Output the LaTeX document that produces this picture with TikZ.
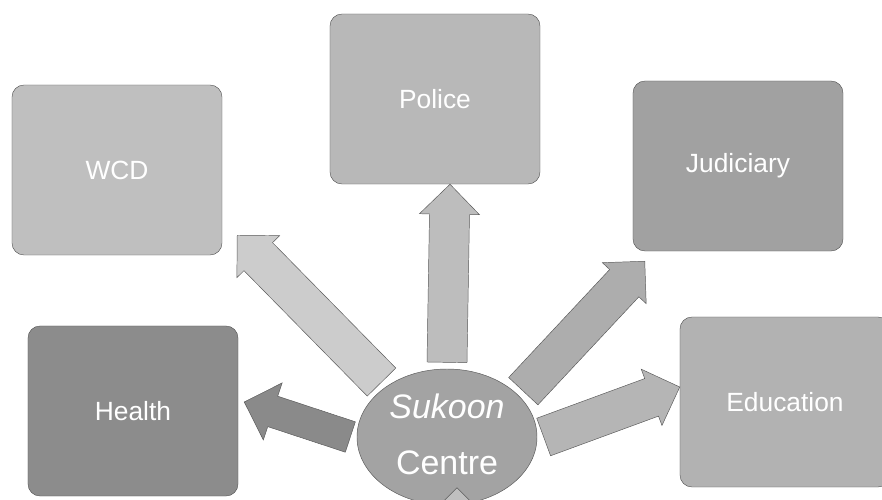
\documentclass[tikz,border=0pt]{standalone}
\usepackage{fontspec}
\setmainfont{Liberation Sans}
\usetikzlibrary{shapes.geometric,calc}

% block arrow: [shaft half width]{tail}{tip}{options}
\newcommand{\blockarrow}[4][0.6cm]{%
    \coordinate (ta) at (#2);
    \coordinate (tb) at (#3);
    \coordinate (tc) at ($(tb)!0.9cm!(ta)$);
    \draw[bigarrow,#4] ($(ta)!#1!90:(tb)$) -- ($(tc)!#1!-90:(ta)$)
        -- ($(tc)!0.9cm!-90:(ta)$) -- (tb) -- ($(tc)!0.9cm!90:(ta)$)
        -- ($(tc)!#1!90:(ta)$) -- ($(ta)!#1!-90:(tb)$) -- cycle;}

\begin{document}
\begin{tikzpicture}[x=0.03cm,y=-0.03cm,
    box/.style={draw=black!65,rounded corners=0.36cm,minimum width=6.3cm,
        minimum height=5.1cm,text=white,font=\fontsize{22.5}{27}\selectfont},
    hub/.style={ellipse,draw=black!65,fill=black!36,minimum width=5.4cm,
        minimum height=4.08cm,outer sep=0.2cm,inner sep=0pt,text=white,
        align=center,font=\fontsize{29}{48}\selectfont},
    bigarrow/.style={draw=black!65,line join=miter}]
        \useasboundingbox (0,0) rectangle (882,500);

        % draw the five partners
        \foreach \name/\pos/\txt/\shade in {
            wcd/{117,170}/WCD/25,
            police/{435,99}/Police/28,
            judiciary/{738,166}/Judiciary/37,
            health/{133,411}/Health/45,
            education/{785,402}/Education/30}
                \node[box,fill=black!\shade] (\name) at (\pos) {\txt};

        % draw the centre
        \node[hub] (hub) at (447,437) {\raisebox{5pt}{\textit{Sukoon}}\\\raisebox{5pt}{Centre}};
        \coordinate (offpage) at (457,570);

        % draw the arrows
        \blockarrow{hub.140}{$(wcd.south east)+(15,-20)$}{fill=black!20}
        \blockarrow{hub.north}{$(police.south)+(15,0)$}{fill=black!26}
        \blockarrow{hub.31}{$(judiciary.south west)+(12,10)$}{fill=black!32}
        \blockarrow{hub.east}{$(education.west)+(0,-15)$}{fill=black!29}
        \blockarrow[0.48cm]{hub.west}{$(health.east)+(6,-9)$}{fill=black!46}
        \blockarrow{offpage}{$(hub.south)+(10,-24)$}{fill=black!25}
\end{tikzpicture}
\end{document}
